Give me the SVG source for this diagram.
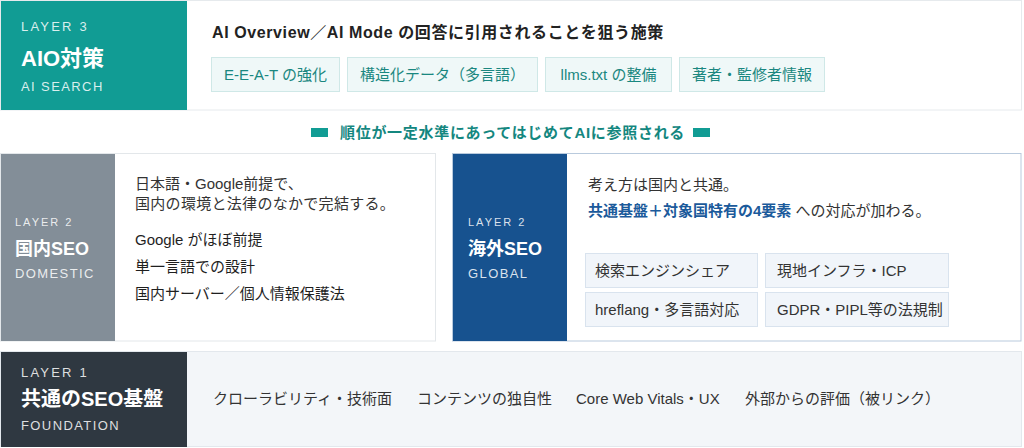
<svg xmlns="http://www.w3.org/2000/svg" width="1024" height="448" viewBox="0 0 1024 448">
<style>
text{font-family:"Liberation Sans","Noto Sans CJK JP",sans-serif}
.lay{font-size:11px;letter-spacing:2px;fill:#fff;fill-opacity:.85}
.lay3{font-size:13px;letter-spacing:2.2px;fill:#fff;fill-opacity:.85}
.sub{font-size:13px;letter-spacing:1.4px;fill:#fff;fill-opacity:.85}
.ttl{font-weight:bold;fill:#fff}
.body{font-size:15px;fill:#333}
.dark{font-size:15px;fill:#1f1f1f}
.tchip{fill:#eff8f8;stroke:#cfe8e7;stroke-width:1}
.ttxt{font-size:15px;fill:#1a8780;text-anchor:middle}
.gchip{fill:#f1f5fa;stroke:#d9e3ee;stroke-width:1}
.gtxt{font-size:15px;fill:#333}
</style>

<g id="layer3">
<rect x="0.5" y="0.5" width="1021" height="109.5" fill="#fff" stroke="#e6eaed"/>
<rect x="1" y="1" width="186" height="109" fill="#119c94"/>
<text class="lay3" x="21" y="31">LAYER 3</text>
<text class="ttl" x="21" y="66" font-size="22">AIO対策</text>
<text class="sub" x="21" y="91">AI SEARCH</text>
<text x="212" y="38" font-size="16" font-weight="bold" fill="#222" letter-spacing="0.6">AI Overview／AI Mode の回答に引用されることを狙う施策</text>
<rect class="tchip" x="211.5" y="57.5" width="128" height="34"/>
<text class="ttxt" x="275.5" y="80">E-E-A-T の強化</text>
<rect class="tchip" x="347.5" y="57.5" width="190" height="34"/>
<text class="ttxt" x="442.5" y="80">構造化データ（多言語）</text>
<rect class="tchip" x="545.5" y="57.5" width="126" height="34"/>
<text class="ttxt" x="608.5" y="80">llms.txt の整備</text>
<rect class="tchip" x="679.5" y="57.5" width="145" height="34"/>
<text class="ttxt" x="752" y="80">著者・監修者情報</text>
</g>

<g id="banner">
<rect x="311" y="128" width="17" height="9" fill="#119c94"/>
<text x="340" y="138" font-size="15" font-weight="bold" fill="#14877f" letter-spacing="0.7">順位が一定水準にあってはじめてAIに参照される</text>
<rect x="693" y="128" width="17" height="9" fill="#119c94"/>
</g>

<g id="domestic">
<rect x="0.5" y="153.5" width="435" height="187.5" fill="#fff" stroke="#e3e7ea"/>
<rect x="1" y="154" width="114" height="187" fill="#838e98"/>
<text class="lay" x="15" y="226">LAYER 2</text>
<text class="ttl" x="15" y="255" font-size="18">国内SEO</text>
<text class="sub" x="15" y="278" letter-spacing="1.2">DOMESTIC</text>
<text class="body" x="135" y="189">日本語・Google前提で、</text>
<text class="body" x="135" y="209" letter-spacing="0.3">国内の環境と法律のなかで完結する。</text>
<text class="dark" x="135" y="245">Google がほぼ前提</text>
<text class="dark" x="135" y="272">単一言語での設計</text>
<text class="dark" x="135" y="299">国内サーバー／個人情報保護法</text>
</g>

<g id="global">
<rect x="452.5" y="153.5" width="568.5" height="187.5" fill="#fff" stroke="#b9cadd"/>
<rect x="453" y="154" width="114" height="187" fill="#17528f"/>
<text class="lay" x="468" y="226">LAYER 2</text>
<text class="ttl" x="468" y="255" font-size="18">海外SEO</text>
<text class="sub" x="468" y="278" letter-spacing="1">GLOBAL</text>
<text class="body" x="588" y="190">考え方は国内と共通。</text>
<text class="body" x="588" y="216"><tspan font-weight="bold" fill="#1b5a9b">共通基盤＋対象国特有の4要素</tspan> への対応が加わる。</text>
<rect class="gchip" x="585.5" y="253.5" width="172" height="34"/>
<text class="gtxt" x="595" y="276">検索エンジンシェア</text>
<rect class="gchip" x="765.5" y="253.5" width="183" height="34"/>
<text class="gtxt" x="777" y="276">現地インフラ・ICP</text>
<rect class="gchip" x="585.5" y="292.5" width="172" height="34"/>
<text class="gtxt" x="595" y="315">hreflang・多言語対応</text>
<rect class="gchip" x="765.5" y="292.5" width="183" height="34"/>
<text class="gtxt" x="777" y="315">GDPR・PIPL等の法規制</text>
</g>

<g id="layer1">
<rect x="0.5" y="351.5" width="1021" height="95" fill="#f3f6f9" stroke="#e3e8ed"/>
<rect x="1" y="352" width="186" height="95" fill="#2f3841"/>
<text class="lay3" x="21" y="377">LAYER 1</text>
<text class="ttl" x="21" y="406" font-size="20">共通のSEO基盤</text>
<text class="sub" x="21" y="430" letter-spacing="1.5">FOUNDATION</text>
<text class="body" x="213" y="404">クローラビリティ・技術面</text>
<text class="body" x="417" y="404">コンテンツの独自性</text>
<text class="body" x="576" y="404">Core Web Vitals・UX</text>
<text class="body" x="745" y="404">外部からの評価（被リンク）</text>
</g>

<g id="connectors"></g>
</svg>
